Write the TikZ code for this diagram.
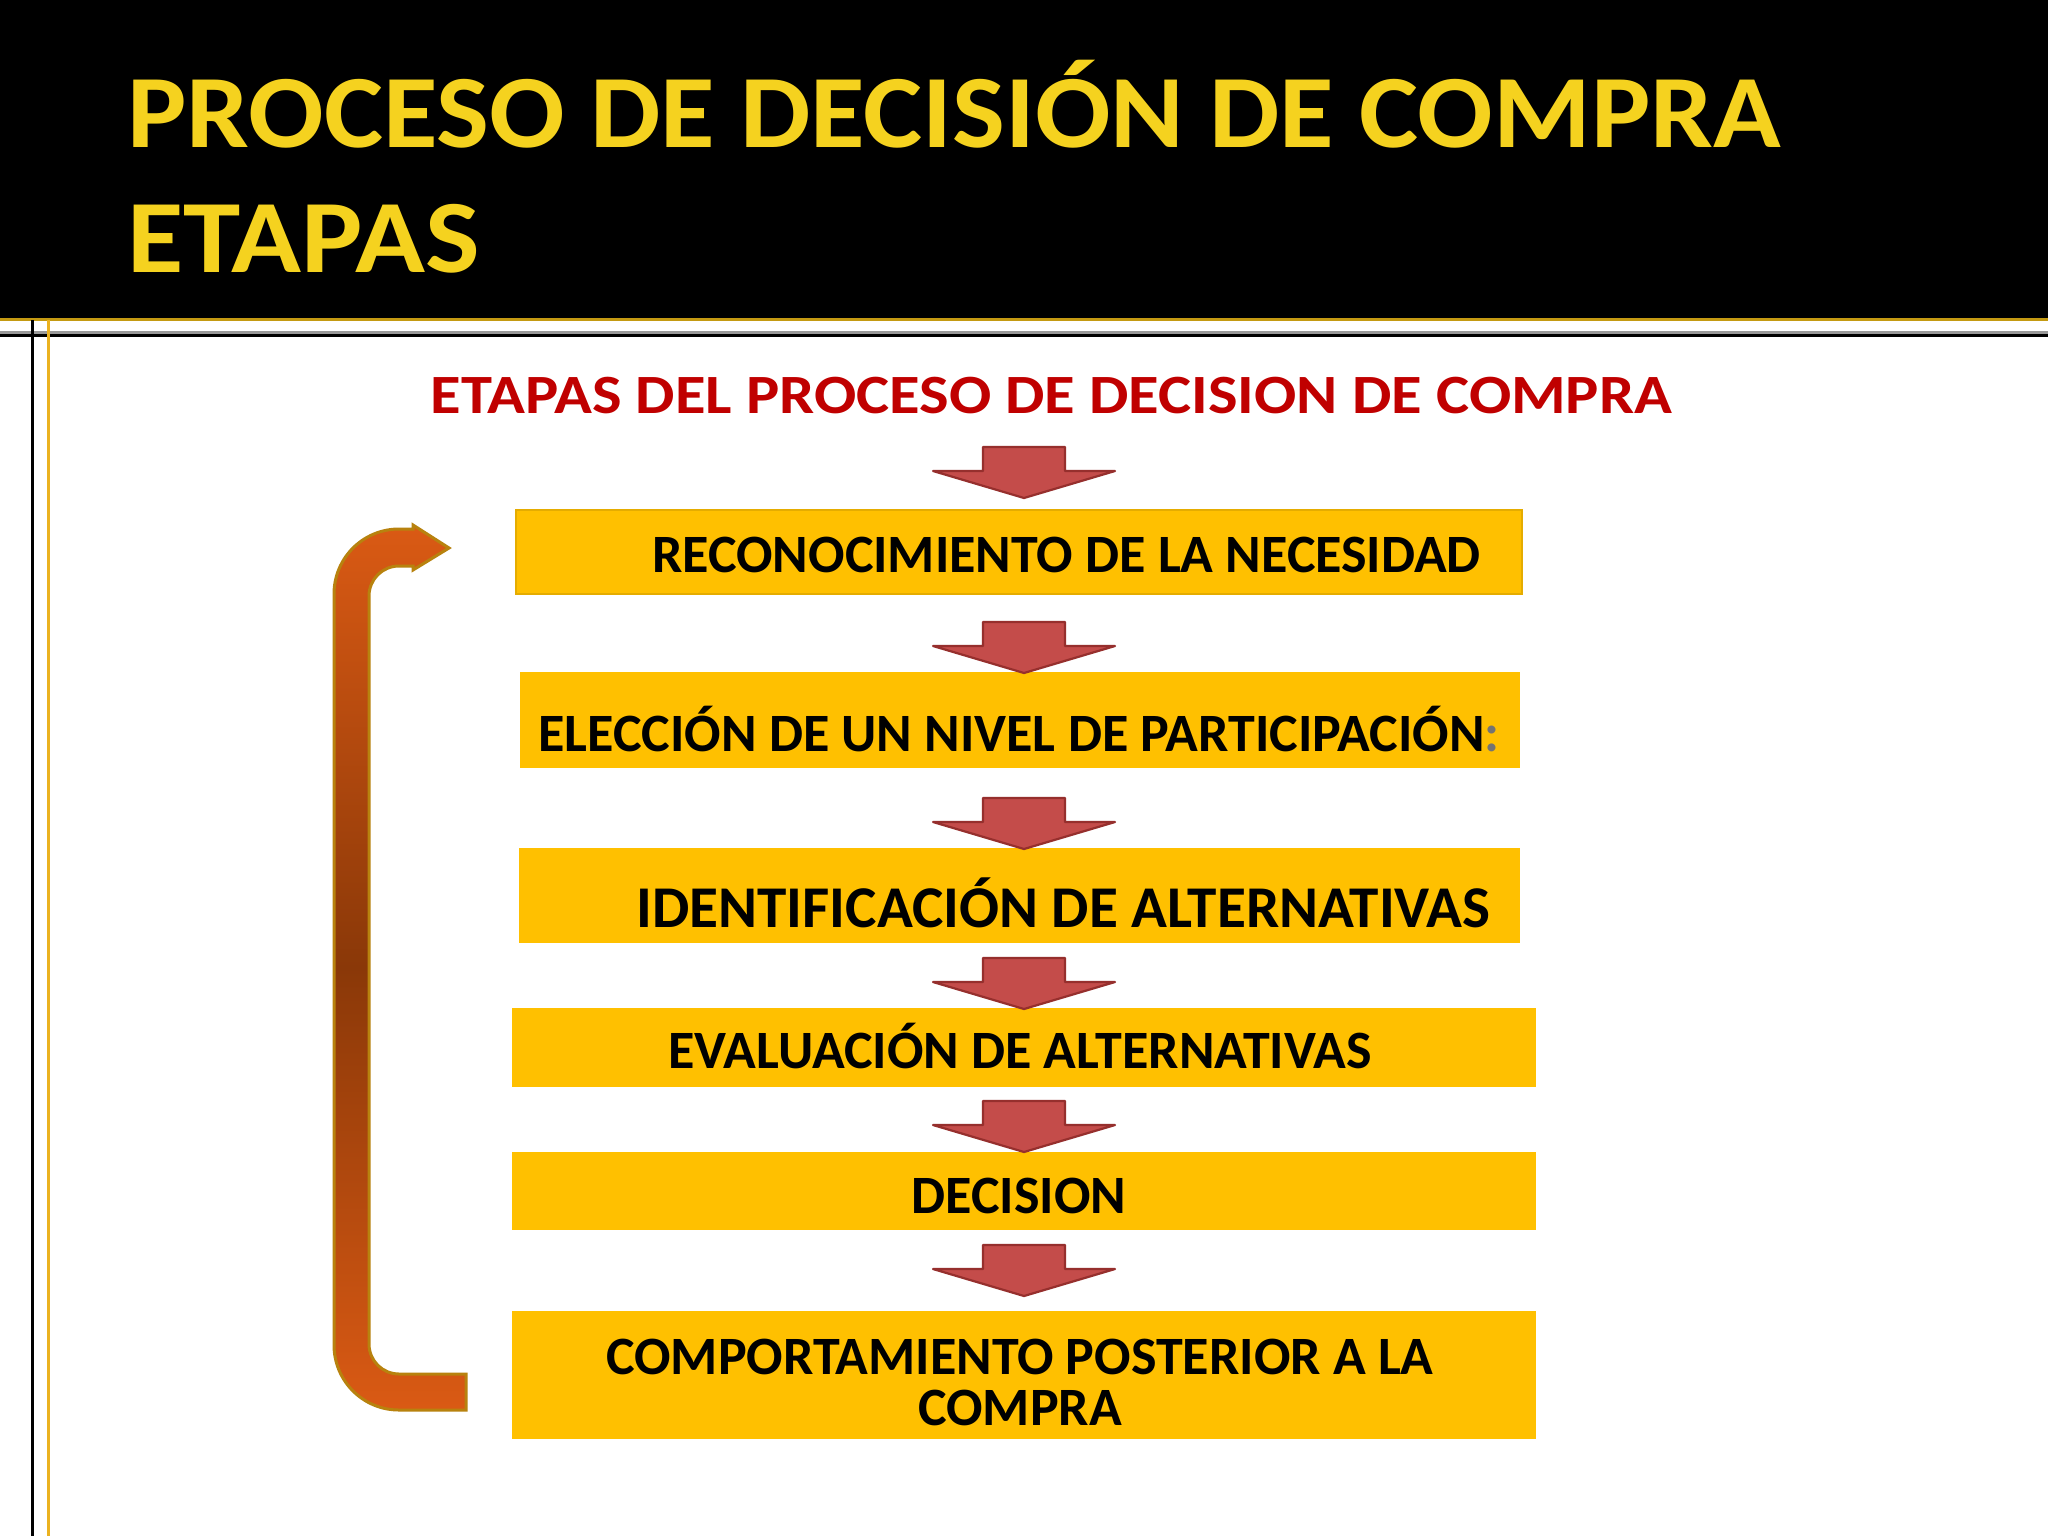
\documentclass[tikz,border=0pt]{standalone}
\usepackage{fontspec}
\setmainfont{Carlito}
\definecolor{titleyellow}{HTML}{F5D21F}
\definecolor{subred}{HTML}{C00000}
\definecolor{boxgold}{HTML}{FFC000}
\definecolor{boxedge}{HTML}{E5AC00}
\definecolor{arrowred}{HTML}{C44C4A}
\definecolor{arrowedge}{HTML}{962F2D}
\definecolor{loopedge}{HTML}{B8820E}
\definecolor{looporange}{HTML}{DA5A14}
\definecolor{loopbrown}{HTML}{8A3808}
\definecolor{ruleGold}{HTML}{C49A12}
\definecolor{vGold}{HTML}{EBB220}
\tikzset{
  stage/.style={rectangle, fill=boxgold, draw=none, inner sep=0pt},
  stagetext/.style={anchor=base, inner sep=0pt, font=\fontsize{27}{33}\selectfont\bfseries, text=black},
  blockdown/.pic={
    \path[fill=arrowred, draw=arrowedge, line width=1.1pt, line join=round]
      (-41,0) -- (41,0) -- (41,24) -- (91,24) -- (0,51) -- (-91,24) -- (-41,24) -- cycle;
  }
}
\begin{document}
\begin{tikzpicture}[x=0.5pt,y=-0.5pt]
\useasboundingbox (0,0) rectangle (2048,1536);
\fill[white] (0,0) rectangle (2048,1536);
% header
\fill[black] (0,0) rectangle (2048,318);
\draw[ruleGold, line width=1.5pt] (0,319.5) -- (2048,319.5);
\draw[black!40, line width=1.5pt] (0,332) -- (2048,332);
\draw[black, line width=1.3pt] (0,335.5) -- (2048,335.5);
\draw[black, line width=1.5pt] (32,320) -- (32,1536);
\draw[vGold, line width=1.5pt] (48,320) -- (48,1536);
% titles
\node[anchor=base west, inner sep=0pt, text=titleyellow, font=\fontsize{52}{60}\selectfont\bfseries, xscale=1.074] (title1) at (127,148) {PROCESO DE DECISIÓN DE COMPRA};
\node[anchor=base west, inner sep=0pt, text=titleyellow, font=\fontsize{52}{60}\selectfont\bfseries, xscale=1.11] (title2) at (127,272) {ETAPAS};
\node[anchor=base, inner sep=0pt, text=subred, font=\fontsize{27.7}{33}\selectfont\bfseries, xscale=1.129] (subtitle) at (1051.5,413) {ETAPAS DEL PROCESO DE DECISION DE COMPRA};
% boxes
\node[stage, draw=boxedge, line width=1.2pt, minimum width=503pt, minimum height=42pt] (b1) at (1019,552) {};
\node[stage, minimum width=500pt, minimum height=48pt] (b2) at (1020,720) {};
\node[stage, minimum width=500.5pt, minimum height=47.5pt] (b3) at (1019.5,895.5) {};
\node[stage, minimum width=512pt, minimum height=39.5pt] (b4) at (1024,1047.5) {};
\node[stage, minimum width=512pt, minimum height=39pt] (b5) at (1024,1191) {};
\node[stage, minimum width=512pt, minimum height=64pt] (b6) at (1024,1375) {};
% texts
\node[stagetext] (t1) at (1066.5,572) {RECONOCIMIENTO DE LA NECESIDAD};
\node[stagetext] (t2) at (1019,751) {ELECCIÓN DE UN NIVEL DE PARTICIPACIÓN{\color{black!55}:}};
\node[stagetext, font=\fontsize{29.6}{35}\selectfont\bfseries] (t3) at (1063.5,927) {IDENTIFICACIÓN DE ALTERNATIVAS};
\node[stagetext] (t4) at (1020,1068) {EVALUACIÓN DE ALTERNATIVAS};
\node[stagetext] (t5) at (1019,1213) {DECISION};
\node[stagetext] (t6a) at (1020,1374) {COMPORTAMIENTO POSTERIOR A LA};
\node[stagetext] (t6b) at (1020,1425) {COMPRA};
% down arrows
\pic at (1024,447) {blockdown};
\pic at (1024,622) {blockdown};
\pic at (1024,798) {blockdown};
\pic at (1024,958) {blockdown};
\pic at (1024,1101) {blockdown};
\pic at (1024,1245) {blockdown};
% return arrow
\path[draw=loopedge, line width=1.5pt, line join=miter, top color=looporange, bottom color=looporange, middle color=loopbrown]
  (466,1374) -- (466,1410) -- (399,1410)
  .. controls (363,1410) and (334,1381) .. (334,1345)
  -- (334,594)
  .. controls (334,558) and (363,529) .. (399,529)
  -- (413,529) -- (413,525) -- (449,548) -- (413,570) -- (413,566) -- (399,566)
  .. controls (382.4,566) and (369,579.4) .. (369,596)
  -- (369,1344)
  .. controls (369,1360.6) and (382.4,1374) .. (399,1374)
  -- cycle;
\end{tikzpicture}
\end{document}
